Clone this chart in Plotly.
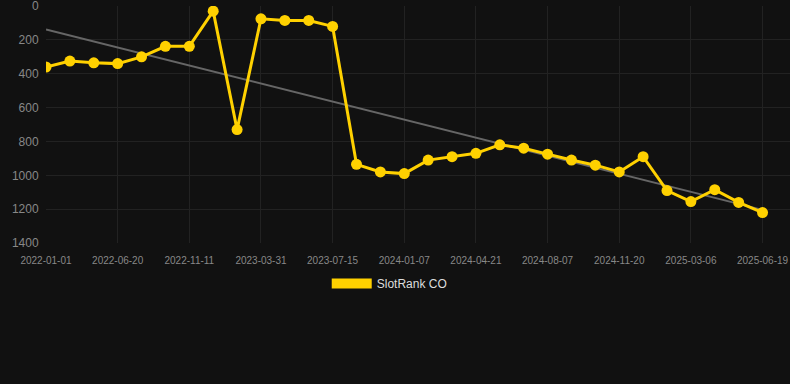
import numpy as np
import plotly.graph_objects as go

dates = ["2022-01-01", "2022-02-27", "2022-04-25", "2022-06-20", "2022-07-18",
         "2022-08-15", "2022-11-11", "2022-12-28", "2023-02-13", "2023-03-31",
         "2023-05-05", "2023-06-09", "2023-07-15", "2023-09-12", "2023-11-10",
         "2024-01-07", "2024-02-11", "2024-03-17", "2024-04-21", "2024-05-27",
         "2024-07-02", "2024-08-07", "2024-09-11", "2024-10-16", "2024-11-20",
         "2024-12-25", "2025-01-29", "2025-03-06", "2025-04-10", "2025-05-15",
         "2025-06-19"]
rank = [360, 325, 335, 340, 300, 238, 238, 30, 730, 75, 85, 85, 120, 935, 980,
        990, 910, 890, 870, 820, 840, 875, 910, 940, 980, 890, 1090, 1155, 1085,
        1160, 1220]
tick_labels = dates[::3]
y_ticks = [0, 200, 400, 600, 800, 1000, 1200, 1400]
series_name = "SlotRank CO"

idx = np.arange(len(rank))
slope, intercept = np.polyfit(idx, rank, 1)
trend = intercept + slope * idx

fig = go.Figure()
fig.add_trace(go.Scatter(x=dates, y=trend, mode="lines",
                         line=dict(color="#666666", width=2),
                         showlegend=False, hoverinfo="skip"))
fig.add_trace(go.Scatter(x=dates, y=rank, mode="lines+markers",
                         line=dict(color="#FFD100", width=3),
                         marker=dict(color="#FFD100", size=11),
                         showlegend=False, name=series_name))
fig.add_trace(go.Scatter(x=[None], y=[None], mode="lines",
                         line=dict(color="#FFD100", width=11),
                         name=series_name, showlegend=True))

fig.update_layout(
    width=790, height=384,
    paper_bgcolor="#111111", plot_bgcolor="#111111",
    margin=dict(l=46, r=0, t=6, b=141, autoexpand=False),
    font=dict(family="Arial, Liberation Sans, sans-serif", color="#888888"),
    xaxis=dict(type="category", range=[0, 31.15], tickmode="array",
               tickvals=tick_labels, ticktext=tick_labels, tickangle=0,
               showgrid=True, gridcolor="#222222", zeroline=False,
               tickfont=dict(size=10, color="#888888"),
               ticks="outside", ticklen=8, tickcolor="rgba(0,0,0,0)",
               showline=False, ticklabeloverflow="allow", automargin=False),
    yaxis=dict(range=[1400, -0.5], tickmode="array", tickvals=y_ticks,
               showgrid=True, gridcolor="#222222", zeroline=False,
               tickfont=dict(size=12, color="#888888"),
               ticks="outside", ticklen=4, tickcolor="rgba(0,0,0,0)",
               ticklabeloverflow="allow", automargin=False),
    legend=dict(orientation="h", x=0.462, xanchor="center",
                y=-0.11, yanchor="top",
                font=dict(size=12, color="#DDDDDD"), itemwidth=40),
)

fig.write_html("out.html", config={"displayModeBar": False},
               post_script="document.body.style.margin='0';document.body.style.background='#111111';")
